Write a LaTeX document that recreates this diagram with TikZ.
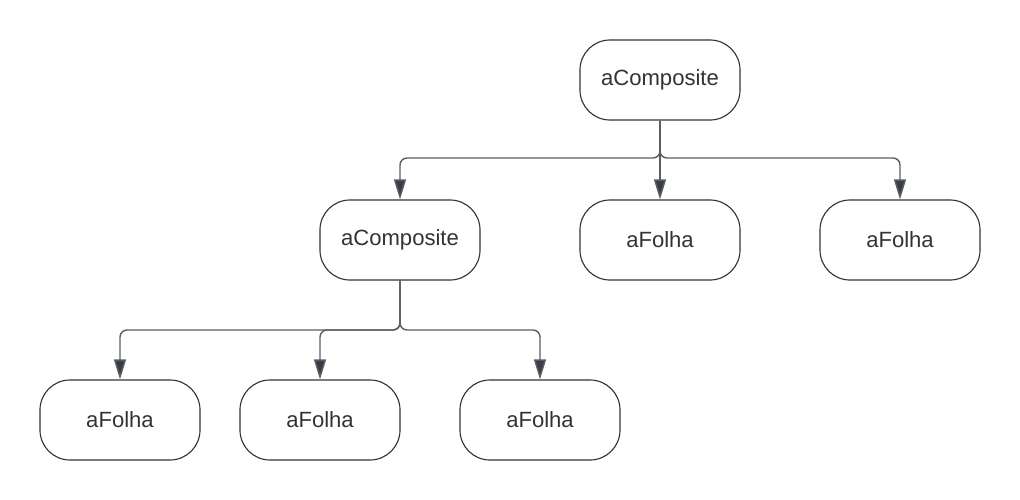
\documentclass[tikz,border=0pt]{standalone}
\usepackage{fontspec}
\setmainfont{Liberation Sans}
\usetikzlibrary{arrows.meta}
\definecolor{lcline}{RGB}{90, 93, 99}
\definecolor{lchead}{RGB}{58, 63, 71}
\definecolor{lctext}{RGB}{51, 51, 51}

\begin{document}
\begin{tikzpicture}[x=0.025cm, y=-0.025cm,
  obj/.style={draw=lctext, line width=0.8pt, rounded corners=0.75cm,
    minimum width=4cm, minimum height=2cm, text=lctext,
    font=\fontsize{15.7}{18}\selectfont},
  link/.style={draw=lcline, line width=1pt,
    -{Triangle[length=0.5cm, width=0.3cm, fill=lchead]}}]
\useasboundingbox (0,0) rectangle (1020,500);

% Root
\node[obj] (root) at (660,80) {aComposite};

% Level one
\node[obj] (comp) at (400,240) {aComposite};
\node[obj] (leafA) at (660,240) {aFolha};
\node[obj] (leafB) at (900,240) {aFolha};

% Level two
\node[obj] (leafC) at (120,420) {aFolha};
\node[obj] (leafD) at (320,420) {aFolha};
\node[obj] (leafE) at (540,420) {aFolha};

% Junctions
\coordinate (jroot) at (660,158);
\coordinate (jcomp) at (400,330);

% Connectors
\draw[link] (root.south) [rounded corners=5pt] -- (jroot) -| (comp.north);
\draw[link] (root.south) -- (leafA.north);
\draw[link] (root.south) [rounded corners=5pt] -- (jroot) -| (leafB.north);

\draw[link] (comp.south) [rounded corners=5pt] -- (jcomp) -| (leafC.north);
\draw[link] (comp.south) [rounded corners=5pt] -- (jcomp) -| (leafD.north);
\draw[link] (comp.south) [rounded corners=5pt] -- (jcomp) -| (leafE.north);
\end{tikzpicture}
\end{document}
